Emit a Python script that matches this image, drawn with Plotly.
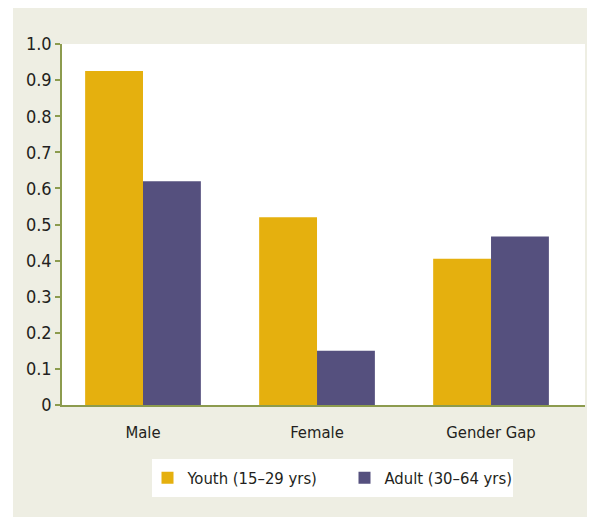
import plotly.graph_objects as go

categories = ["Male", "Female", "Gender Gap"]
youth = [0.925, 0.52, 0.405]
adult = [0.62, 0.15, 0.467]
series_names = ["Youth (15\u201329 yrs)", "Adult (30\u201364 yrs)"]
tick_vals = [0, 0.1, 0.2, 0.3, 0.4, 0.5, 0.6, 0.7, 0.8, 0.9, 1.0]
tick_text = ["0", "0.1", "0.2", "0.3", "0.4", "0.5", "0.6", "0.7", "0.8", "0.9", "1.0"]

YELLOW = "#E5B00E"
PURPLE = "#55507E"
BEIGE = "#EEEEE3"
AXIS = "#8C9B4E"
TEXT = "#231F20"
FONT = "DejaVu Sans Condensed, Liberation Sans Narrow, sans-serif"

fig = go.Figure()
fig.add_trace(go.Bar(x=categories, y=youth, name=series_names[0], marker=dict(color=YELLOW, line=dict(width=0))))
fig.add_trace(go.Bar(x=categories, y=adult, name=series_names[1], marker=dict(color=PURPLE, line=dict(width=0))))

# figure pixel geometry (page is offset by the 8px body margin)
W, H = 595, 517
L, R, T, B = 54, 18, 36, 120
pw, ph = W - L - R, H - T - B

def px_x(p):
    return (p - L) / pw

def px_y(p):
    return (H - B - p) / ph

fig.update_layout(
    width=W, height=H,
    margin=dict(l=L, r=R, t=T, b=B, pad=0),
    paper_bgcolor=BEIGE,
    plot_bgcolor="white",
    barmode="group",
    bargap=0.335,
    bargroupgap=0,
    font=dict(family=FONT, size=16, color=TEXT),
    showlegend=True,
    legend=dict(
        orientation="h",
        x=px_x(139.5), y=px_y(470), xanchor="left", yanchor="middle",
        bgcolor="rgba(0,0,0,0)",
        font=dict(family=FONT, size=16.5, color=TEXT),
        tracegroupgap=0,
        entrywidth=152,
    ),
    xaxis=dict(
        range=[-0.4655, 2.54],
        showline=True, linecolor=AXIS, linewidth=1.5,
        ticks="", showgrid=False, zeroline=False,
        tickfont=dict(family=FONT, size=16.5, color=TEXT),
        ticklabelstandoff=11,
        fixedrange=True,
    ),
    yaxis=dict(
        range=[0, 1.0],
        tickvals=tick_vals, ticktext=tick_text,
        showline=True, linecolor=AXIS, linewidth=1.5,
        ticks="outside", ticklen=5, tickwidth=1.5, tickcolor=AXIS,
        showgrid=False, zeroline=False,
        tickfont=dict(family=FONT, size=18, color=TEXT),
        fixedrange=True,
    ),
    shapes=[
        dict(type="rect", xref="paper", yref="paper",
             x0=px_x(-5), x1=px_x(5), y0=px_y(530), y1=px_y(-5),
             fillcolor="white", line=dict(width=0), layer="below"),
        dict(type="rect", xref="paper", yref="paper",
             x0=px_x(144), x1=px_x(505), y0=px_y(489), y1=px_y(451),
             fillcolor="white", line=dict(width=0), layer="below"),
    ],
)

fig.write_html("out.html")
